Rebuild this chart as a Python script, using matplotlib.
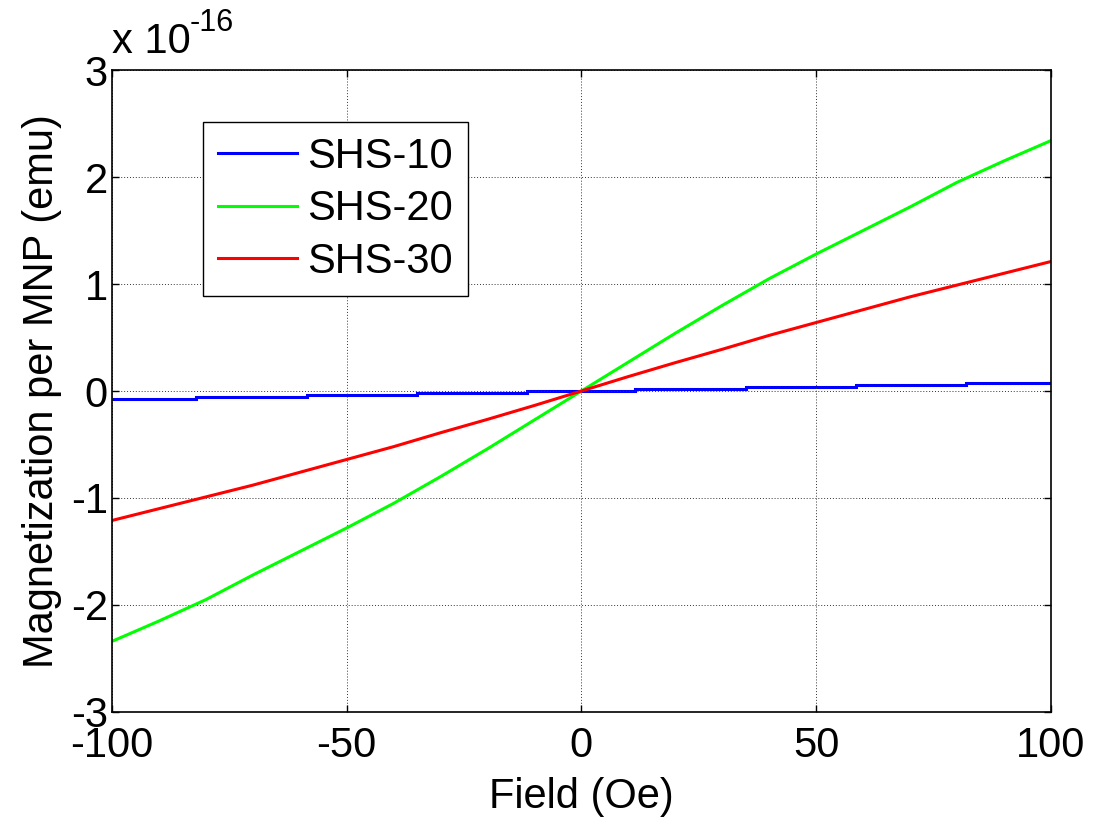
import numpy as np
import matplotlib
matplotlib.use('Agg')
import matplotlib.pyplot as plt

plt.rcParams['font.family'] = ['Liberation Sans', 'DejaVu Sans']
plt.rcParams['axes.unicode_minus'] = False

# Field values (Oe) and magnetization per MNP (x 1e-16 emu)
field = [-100, -90, -80, -70, -60, -50, -40, -30, -20, -10, 0,
         10, 20, 30, 40, 50, 60, 70, 80, 90, 100]
shs20 = [-2.34, -2.15, -1.95, -1.72, -1.50, -1.28, -1.05, -0.80, -0.54, -0.27, 0.0,
         0.27, 0.54, 0.80, 1.05, 1.28, 1.50, 1.72, 1.95, 2.15, 2.34]
shs30 = [-1.21, -1.10, -0.99, -0.88, -0.76, -0.64, -0.52, -0.39, -0.265, -0.135, 0.0,
         0.135, 0.265, 0.39, 0.52, 0.64, 0.76, 0.88, 0.99, 1.10, 1.21]

# SHS-10 is a staircase
shs10_edges = [-100, -82, -58.5, -35, -11.5, 11.5, 35, 58.5, 82, 100]
shs10_levels = [-0.075, -0.055, -0.035, -0.017, 0.0, 0.017, 0.035, 0.055, 0.075]

labels = ['SHS-10', 'SHS-20', 'SHS-30']
colors = ['#0000ff', '#00ff00', '#ff0000']

fs = 30

fig = plt.figure(figsize=(11.02, 8.18), dpi=100)
ax = fig.add_axes([0.1016, 0.1296, 0.852, 0.7848])

ax.stairs(shs10_levels, shs10_edges, color=colors[0], lw=2.2, label=labels[0], baseline=None)
ax.plot(field, shs20, color=colors[1], lw=2.2, label=labels[1])
ax.plot(field, shs30, color=colors[2], lw=2.2, label=labels[2])

ax.set_xlim(-100, 100)
ax.set_ylim(-3, 3)
ax.set_xticks([-100, -50, 0, 50, 100])
ax.set_yticks([-3, -2, -1, 0, 1, 2, 3])
ax.grid(True, color='#333333', linestyle=(0, (1, 2)), linewidth=0.7)
ax.tick_params(direction='in', length=5, width=1, labelsize=fs, top=True, right=True, pad=3)
ax.tick_params(axis='x', pad=10)
for sp in ax.spines.values():
    sp.set_linewidth(1.2)

ax.set_xlabel('Field (Oe)', fontsize=fs, labelpad=8)
ax.set_ylabel('Magnetization per MNP (emu)', fontsize=fs, labelpad=6)

# exponent label in MATLAB style
ax.text(0.0, 1.012, 'x 10', transform=ax.transAxes, fontsize=fs,
        ha='left', va='bottom')
ax.text(0.083, 1.05, '-16', transform=ax.transAxes, fontsize=22,
        ha='left', va='bottom')

leg = ax.legend(loc='upper left', bbox_to_anchor=(0.097, 0.919), borderaxespad=0,
                fancybox=False, framealpha=1, edgecolor='black', fontsize=fs,
                handlelength=1.9, handletextpad=0.25, labelspacing=0.3,
                borderpad=0.35)
leg.get_frame().set_linewidth(1.0)

fig.savefig('out.png', dpi=100)
